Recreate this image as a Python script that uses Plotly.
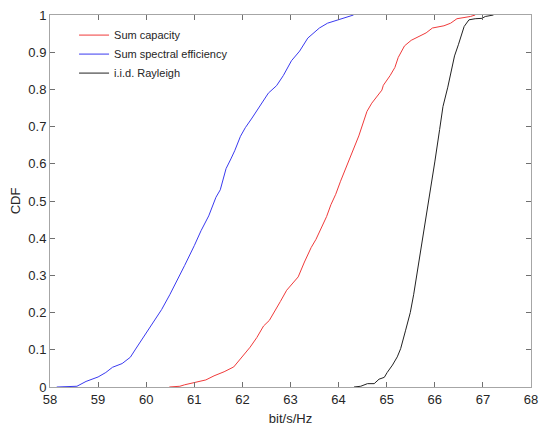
import plotly.graph_objects as go

# Sum spectral efficiency (blue)
se_x = [58.14, 58.56, 58.75, 59.0, 59.16, 59.3, 59.5, 59.67, 59.78, 59.98, 60.15, 60.32, 60.49, 60.66, 60.8, 61.0, 61.14, 61.3,
        61.45, 61.54, 61.66, 61.76, 61.84, 61.96, 62.06, 62.2, 62.33, 62.54, 62.71, 62.85, 63.02, 63.19, 63.36, 63.6, 63.77, 63.98, 64.21, 64.31]
se_y = [0.0, 0.002, 0.015, 0.027, 0.039, 0.053, 0.063, 0.08, 0.102, 0.142, 0.177, 0.208, 0.248, 0.29, 0.327, 0.38, 0.42, 0.46,
        0.51, 0.53, 0.587, 0.613, 0.635, 0.674, 0.697, 0.723, 0.75, 0.79, 0.81, 0.837, 0.877, 0.903, 0.938, 0.965, 0.978, 0.987, 0.995, 1.0]

# Sum capacity (red)
cap_x = [60.48, 60.7, 60.8, 61.0, 61.24, 61.41, 61.62, 61.82, 61.99, 62.16, 62.3, 62.44, 62.56, 62.68, 62.79, 62.92, 63.02, 63.16,
         63.29, 63.43, 63.53, 63.63, 63.75, 63.84, 63.94, 64.04, 64.18, 64.28, 64.42, 64.59, 64.69, 64.9, 64.93, 65.07, 65.17, 65.24,
         65.37, 65.51, 65.68, 65.82, 65.95, 66.19, 66.33, 66.46, 66.74, 66.84]
cap_y = [0.0, 0.002, 0.006, 0.011, 0.019, 0.03, 0.041, 0.054, 0.08, 0.107, 0.133, 0.164, 0.179, 0.204, 0.23, 0.26, 0.274, 0.296,
         0.336, 0.375, 0.397, 0.423, 0.458, 0.49, 0.518, 0.553, 0.597, 0.627, 0.675, 0.741, 0.763, 0.798, 0.811, 0.837, 0.859, 0.886,
         0.917, 0.932, 0.943, 0.952, 0.965, 0.971, 0.978, 0.99, 0.996, 1.0]

# i.i.d. Rayleigh (black)
ray_x = [64.32, 64.46, 64.6, 64.74, 64.84, 64.95, 65.01, 65.12, 65.22, 65.29, 65.39, 65.49, 65.56, 65.63, 65.7, 65.74, 65.8, 65.83,
         65.9, 66.0, 66.1, 66.17, 66.27, 66.33, 66.41, 66.49, 66.54, 66.61, 66.71, 66.84, 66.98, 67.05, 67.22]
ray_y = [0.0, 0.002, 0.009, 0.009, 0.021, 0.026, 0.039, 0.059, 0.081, 0.103, 0.151, 0.2, 0.248, 0.305, 0.354, 0.389, 0.432, 0.46,
         0.518, 0.605, 0.692, 0.754, 0.806, 0.84, 0.89, 0.92, 0.938, 0.969, 0.987, 0.99, 0.991, 0.996, 1.0]

x_ticks = list(range(58, 69))
y_ticks = [0, 0.1, 0.2, 0.3, 0.4, 0.5, 0.6, 0.7, 0.8, 0.9, 1]

fig = go.Figure()
fig.add_trace(go.Scatter(x=cap_x, y=cap_y, mode="lines", name="Sum capacity",
                         line=dict(color="#f03a3a", width=1)))
fig.add_trace(go.Scatter(x=se_x, y=se_y, mode="lines", name="Sum spectral efficiency",
                         line=dict(color="#3a3af0", width=1)))
fig.add_trace(go.Scatter(x=ray_x, y=ray_y, mode="lines", name="i.i.d. Rayleigh",
                         line=dict(color="#222222", width=1)))

axis_common = dict(showline=True, linecolor="#a6a6a6", linewidth=1, mirror="ticks",
                   ticks="inside", ticklen=5, tickcolor="#707070", showgrid=False, zeroline=False,
                   ticklabeloverflow="allow",
                   tickfont=dict(family="Liberation Sans, Arial", size=13, color="#262626"))

fig.update_layout(
    width=546, height=432,
    margin=dict(l=50, r=8, t=10, b=42),
    paper_bgcolor="white", plot_bgcolor="white",
    font=dict(family="Liberation Sans, Arial", size=13, color="#262626"),
    xaxis=dict(range=[58, 68], tickvals=x_ticks,
               title=dict(text="bit/s/Hz", standoff=8, font=dict(size=13)), **axis_common),
    yaxis=dict(range=[0, 1], tickvals=y_ticks,
               title=dict(text="CDF", standoff=4, font=dict(size=13)), **axis_common),
    legend=dict(x=0.05, y=0.985, xanchor="left", yanchor="top", bgcolor="rgba(0,0,0,0)",
                font=dict(size=11, color="#262626"), tracegroupgap=0, itemwidth=30),
    showlegend=True,
)

fig.write_html("out.html", config={"displayModeBar": False},
               post_script="document.body.style.margin='0';document.body.style.padding='0';")
